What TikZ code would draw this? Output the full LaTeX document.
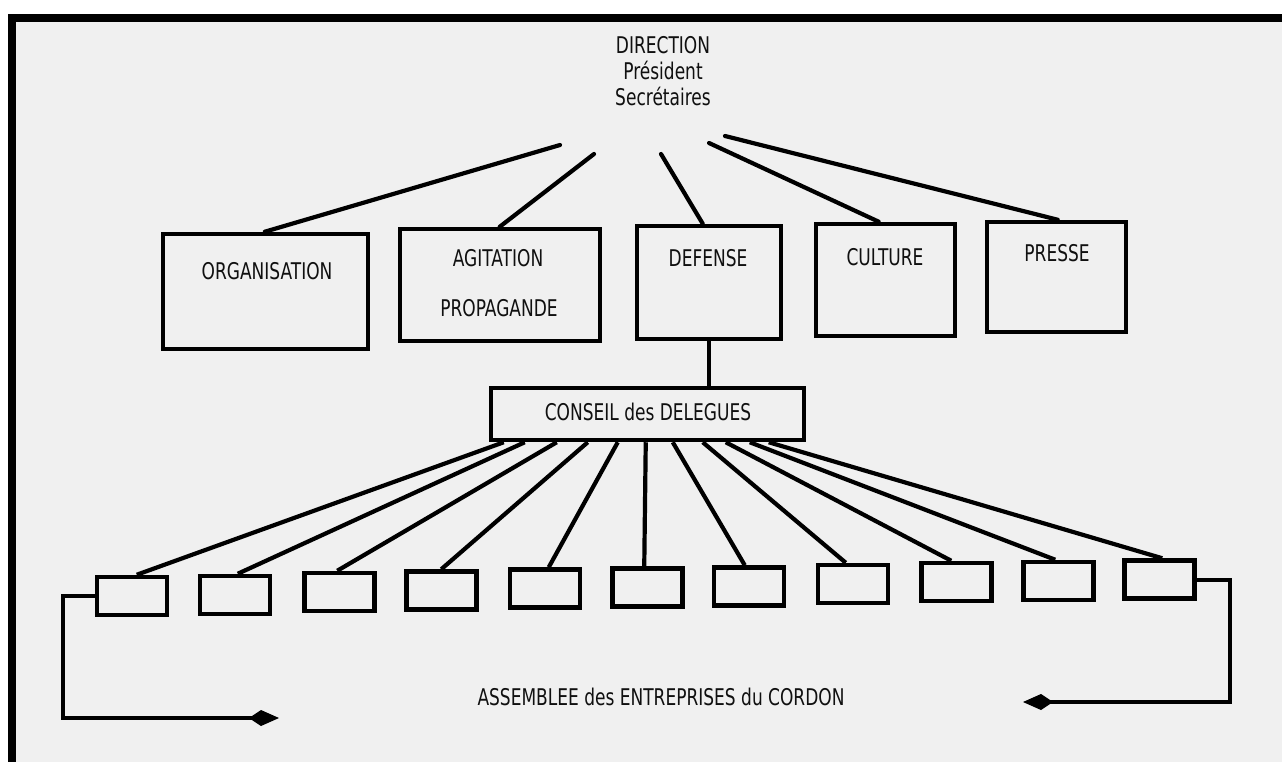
\documentclass[tikz,border=0pt]{standalone}
\usepackage{fontspec}
\setmainfont{DejaVu Sans}[FakeStretch=0.74]
\usetikzlibrary{arrows.meta,calc}
\definecolor{bg}{HTML}{F0F0F0}
\definecolor{ink}{HTML}{101010}
\begin{document}
\begin{tikzpicture}[x=1pt,y=-1pt,
  box/.style={draw=black,line width=4.5pt,inner sep=0pt,fill=none},
  sbox/.style={box,minimum width=70pt,minimum height=38pt},
  lbl/.style={inner sep=0pt,text=ink,font=\fontsize{23}{26}\selectfont,align=center},
  conn/.style={draw=black,line width=4.2pt,line cap=round},
  arr/.style={draw=black,line width=4pt,-{Kite[length=30pt,width=16pt,inset=12pt,fill=black,line width=2pt]}}]
\useasboundingbox (0,0) rectangle (1282,762);
\clip (0,0) rectangle (1282,762);
\fill[white] (0,0) rectangle (1282,762);
\draw[line width=8pt,fill=bg] (12,18) rectangle (1320,800);

% title
\node[lbl] (dir) at (663,71) {DIRECTION\\Président\\Secrétaires};

% department boxes
\node[box,minimum width=205pt,minimum height=115pt] (org) at (265.5,291.5) {};
\node[box,minimum width=200pt,minimum height=112pt] (agit) at (500,285) {};
\node[box,minimum width=144pt,minimum height=113pt] (def) at (709,282.5) {};
\node[box,minimum width=139pt,minimum height=112pt] (cult) at (885.5,280) {};
\node[box,minimum width=139pt,minimum height=110pt] (pres) at (1056.5,277) {};

\node[lbl] (orgt) at (267,271) {ORGANISATION};
\node[lbl] (agitt) at (498,258) {AGITATION};
\node[lbl] (propt) at (499,308) {PROPAGANDE};
\node[lbl] (deft) at (708,258) {DEFENSE};
\node[lbl] (cultt) at (885,257) {CULTURE};
\node[lbl] (prest) at (1057,253) {PRESSE};

% council
\node[box,minimum width=313pt,minimum height=52pt] (conseil) at (647.5,414) {};
\node[lbl] (conseilt) at (648,412) {CONSEIL des DELEGUES};

% enterprise boxes
\foreach \i/\x/\y in {1/132/596, 2/235/595, 3/339.5/592, 4/441.5/590.5, 5/545/588.5,
  6/647.5/587.5, 7/749/586.5, 8/853/584, 9/956.5/582, 10/1058.5/581, 11/1159.5/579.5}
  \node[sbox] (b\i) at (\x,\y) {};

\node[lbl] (assemb) at (661,697) {ASSEMBLEE des ENTREPRISES du CORDON};

% connectors from direction
\coordinate (d1) at (560,145);
\coordinate (d2) at (594,154);
\coordinate (d3) at (661,154);
\coordinate (d4) at (709,143);
\coordinate (d5) at (725,136);
\draw[conn] (d1) -- ($(org.north west)+(104,0)$);
\draw[conn] (d2) -- ($(agit.north west)+(102,0)$);
\draw[conn] (d3) -- ($(def.north west)+(68,0)$);
\draw[conn] (d4) -- ($(cult.north west)+(65,0)$);
\draw[conn] (d5) -- ($(pres.north west)+(73,0)$);

% defense to council
\draw[conn,line cap=butt] ($(def.south west)+(74,0)$) -- ($(conseil.north west)+(220,0)$);

% council to enterprises
\foreach \i/\s/\e in {1/15/42, 2/36/40, 3/68/35, 4/99/37, 5/129/41, 6/157/34,
  7/184/33, 8/214/30, 9/237/32, 10/261/34, 11/280/40}
  \draw[conn,line cap=butt] ($(conseil.south west)+(\s,0)$) -- ($(b\i.north west)+(\e,0)$);

% assembly arrows
\coordinate (la) at (63,718);
\coordinate (lt) at (279,718);
\coordinate (ra) at (1230,702);
\coordinate (rt) at (1023,702);
\draw[arr] (b1.west) -| (la) -- (lt);
\draw[arr] (b11.east) -| (ra) -- (rt);
\end{tikzpicture}
\end{document}
